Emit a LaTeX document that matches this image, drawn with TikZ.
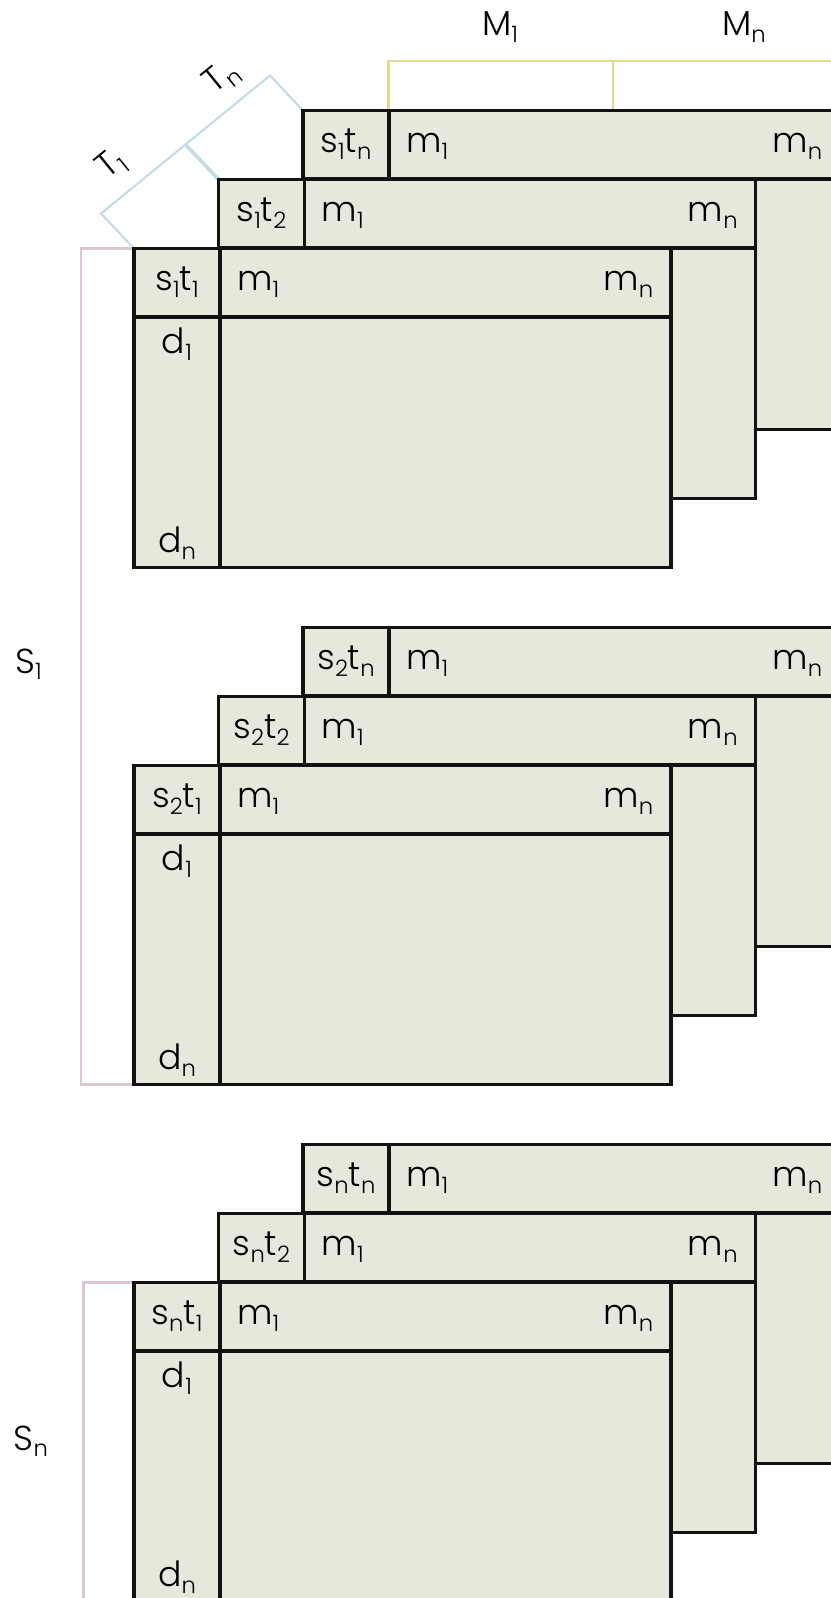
\documentclass[tikz,border=0pt]{standalone}
\usepackage{fontspec}
\setmainfont{Poppins}[UprightFont={* Light}]
\definecolor{tabbg}{RGB}{232,231,220}
\definecolor{bluel}{RGB}{196,220,230}
\definecolor{pinkl}{RGB}{222,198,208}
\definecolor{yell}{RGB}{226,216,145}
\newcommand\sbs[1]{\raisebox{-0.2em}{\fontsize{17}{17}\selectfont #1}}
\tikzset{
  tabbox/.style={fill=tabbg, draw=black!93, line width=2.3pt},
  rulel/.style={draw=black!93, line width=2.3pt},
  txt/.style={inner sep=0pt, font=\fontsize{26}{30}\selectfont},
  bluebr/.style={draw=bluel, line width=1.6pt},
  bluetick/.style={draw=bluel, line width=2.8pt},
  pinkbr/.style={draw=pinkl, line width=2pt},
  yelbr/.style={draw=yell, line width=2pt},
}
% #1 x, #2 y, #3 name, #4 label
\newcommand\tabl[4]{%
\begin{scope}[shift={(#1,#2)}]
  \path[tabbox] (0,0) rectangle (537,319);
  \draw[rulel] (0,68.5) -- (537,68.5);
  \draw[rulel] (86,0) -- (86,319);
  \node[txt, anchor=base] (#3-l) at (43,42) {#4};
  \node[txt, anchor=base west] (#3-m1) at (103,42) {m\sbs{1}};
  \node[txt, anchor=base east] (#3-mn) at (519.5,42) {m\sbs{n}};
\end{scope}}
\newcommand\tablfront[4]{%
\tabl{#1}{#2}{#3}{#4}%
\begin{scope}[shift={(#1,#2)}]
  \node[txt, anchor=base] (#3-d1) at (43,105) {d\sbs{1}};
  \node[txt, anchor=base] (#3-dn) at (43,304) {d\sbs{n}};
\end{scope}}
\begin{document}
\begin{tikzpicture}[x=0.75pt, y=-0.75pt]
\useasboundingbox (0,0) rectangle (831,1598);
\clip (0,0) rectangle (831,1598);
\fill[white] (0,0) rectangle (831,1598);
% brackets
\coordinate (bA) at (101,213.5);
\coordinate (bB) at (270,75.5);
\coordinate (bT) at (185.5,144.5);
\draw[bluebr] (134,248.5) -- (bA) -- (bB) -- (303,110.5);
\draw[bluetick] (bT) -- (218.5,179.5);
\node[txt, rotate=39.2] (T1) at (112,165) {T\sbs{1}};
\node[txt, rotate=39.2] (Tn) at (222,78) {T\sbs{n}};
\draw[yelbr] (388.5,110.5) -- (388.5,61) -- (845,61);
\draw[yelbr] (613,61) -- (613,110.5);
\node[txt, anchor=base] (M1) at (500,36) {M\sbs{1}};
\node[txt, anchor=base] (Mn) at (744,36) {M\sbs{n}};
\draw[pinkbr] (134,248.5) -- (81,248.5) -- (81,1084.5) -- (134,1084.5);
\node[txt, anchor=base] (S1) at (28.5,673) {S\sbs{1}};
\draw[pinkbr] (134,1282.5) -- (83.5,1282.5) -- (83.5,1610);
\node[txt, anchor=base] (Sn) at (31,1450) {S\sbs{n}};
% group 1
\tabl{303}{110.5}{a3}{s\sbs{1}t\sbs{n}}
\tabl{218.5}{179.5}{a2}{s\sbs{1}t\sbs{2}}
\tablfront{134}{248.5}{a1}{s\sbs{1}t\sbs{1}}
% group 2
\tabl{303}{627.5}{b3}{s\sbs{2}t\sbs{n}}
\tabl{218.5}{696.5}{b2}{s\sbs{2}t\sbs{2}}
\tablfront{134}{765.5}{b1}{s\sbs{2}t\sbs{1}}
% group 3
\tabl{303}{1144.5}{c3}{s\sbs{n}t\sbs{n}}
\tabl{218.5}{1213.5}{c2}{s\sbs{n}t\sbs{2}}
\tablfront{134}{1282.5}{c1}{s\sbs{n}t\sbs{1}}
\end{tikzpicture}
\end{document}
